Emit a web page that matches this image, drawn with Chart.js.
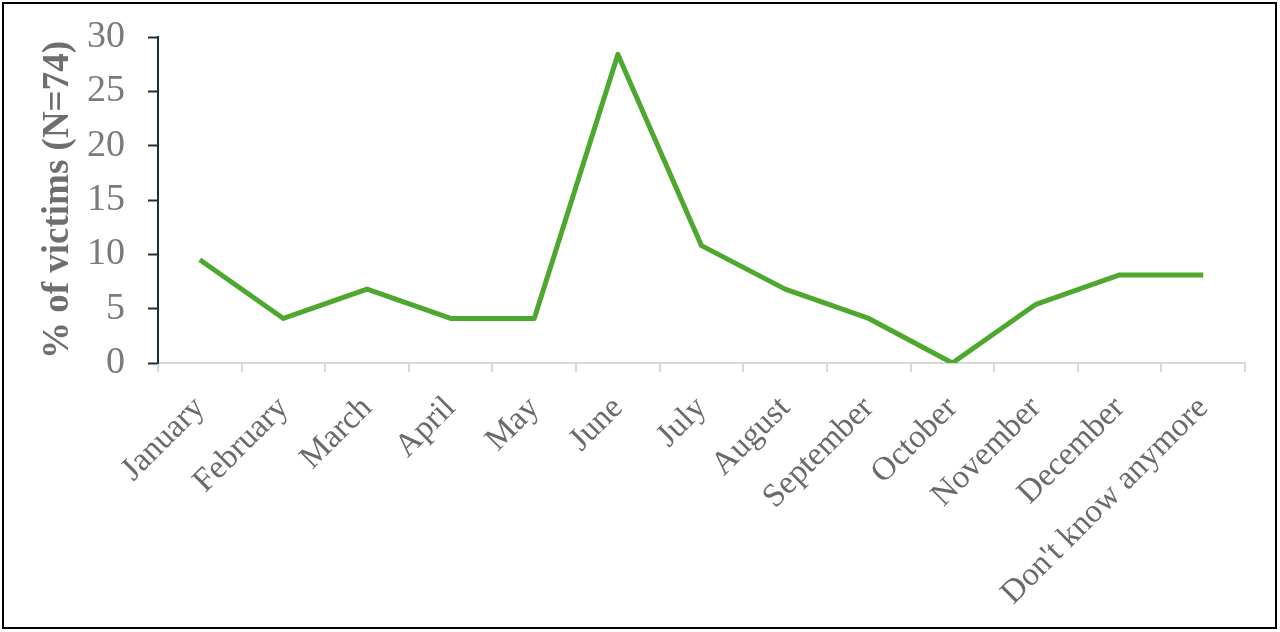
<!DOCTYPE html>
<html>
<head>
<meta charset="utf-8">
<script src="https://cdn.jsdelivr.net/npm/chart.js@4/dist/chart.umd.min.js"></script>
<style>
  html, body { margin: 0; padding: 0; background: #fff; }
  #wrap { width: 1280px; height: 632px; position: relative; }
</style>
</head>
<body>
<div id="wrap"><canvas id="c"></canvas></div>
<script>
const categories = ["January", "February", "March", "April", "May", "June", "July", "August", "September", "October", "November", "December", "Don't know anymore"];
const victimsPct = [9.5, 4.1, 6.8, 4.1, 4.1, 28.4, 10.8, 6.8, 4.1, 0, 5.4, 8.1, 8.1];
const yMin = 0;
const yMax = 30;
const yStep = 5;
const yTitle = "% of victims (N=74)";

const frame = {
  id: 'frame',
  afterDraw(chart) {
    const ctx = chart.ctx;
    ctx.save();
    ctx.strokeStyle = '#000';
    ctx.lineWidth = 2;
    ctx.strokeRect(3, 3, 1273, 625);
    ctx.restore();
  }
};

new Chart(document.getElementById('c'), {
  type: 'line',
  data: {
    labels: categories,
    datasets: [{
      data: victimsPct,
      borderColor: '#4ea72e',
      borderWidth: 5,
      pointRadius: 0,
      tension: 0,
      borderJoinStyle: 'round',
      fill: false
    }]
  },
  options: {
    responsive: true,
    maintainAspectRatio: false,
    animation: false,
    layout: { padding: { left: 10, right: 35, top: 37, bottom: 0 } },
    plugins: { legend: { display: false }, tooltip: { enabled: false } },
    scales: {
      x: {
        offset: true,
        afterFit(s) { s.height = 269; },
        border: { color: '#d9d9d9', width: 2 },
        grid: { offset: true, drawOnChartArea: false, drawTicks: true, tickLength: 9, color: '#d9d9d9', lineWidth: 2 },
        ticks: {
          autoSkip: false, minRotation: 45, maxRotation: 45, padding: 17,
          color: '#6a6a6a',
          font: { family: '"Liberation Serif", "Times New Roman", serif', size: 33 }
        }
      },
      y: {
        min: yMin, max: yMax,
        afterFit(s) { s.width = 148; s.paddingTop = 0; s.paddingBottom = 0; },
        border: { color: '#1f2d3d', width: 2 },
        grid: { drawOnChartArea: false, drawTicks: true, tickLength: 10, tickColor: '#1f2d3d', tickWidth: 2 },
        ticks: {
          stepSize: yStep, padding: 23,
          color: '#7a7a7a',
          font: { family: '"Liberation Serif", "Times New Roman", serif', size: 38 }
        },
        title: {
          display: true, text: yTitle,
          color: '#6e6e6e',
          padding: { top: 26, bottom: 0 },
          font: { family: '"Liberation Serif", "Times New Roman", serif', size: 37, weight: 'bold' }
        }
      }
    }
  },
  plugins: [frame]
});
</script>
</body>
</html>
